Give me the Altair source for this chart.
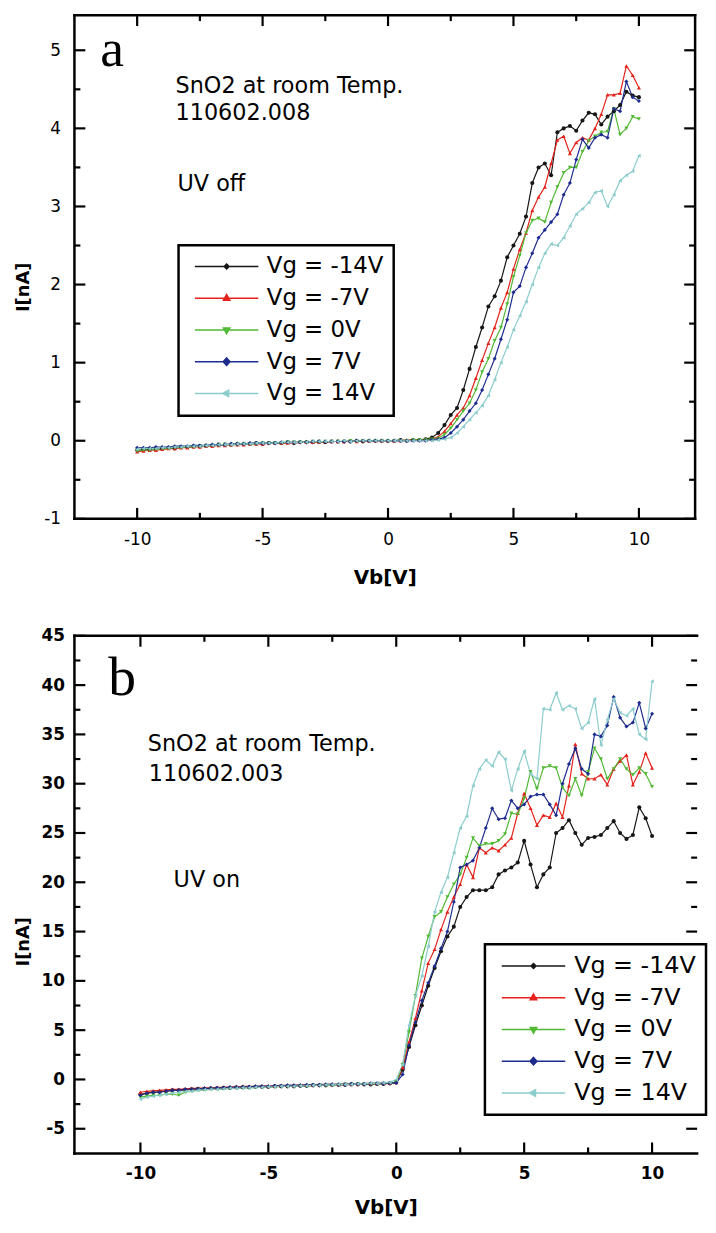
import altair as alt
import pandas as pd

SERIES = ["Vg = -14V", "Vg = -7V", "Vg = 0V", "Vg = 7V", "Vg = 14V"]
COLORS = ["#161616", "#e5221b", "#52b934", "#1f2c8f", "#8ccccd"]
SHAPES = ["circle", "triangle-up", "triangle-down", "diamond", "triangle-left"]
LEGEND_PATHS = [
    "M-1,0H11.8M5.4,-0.5L5.9,0L5.4,0.5L4.9,0Z",
    "M-1,0H11.8M5.4,-0.75L6.05,0.4L4.75,0.4Z",
    "M-1,0H11.8M5.4,0.75L6.05,-0.4L4.75,-0.4Z",
    "M-1,0H11.8M5.4,-0.75L6.1,0L5.4,0.75L4.7,0Z",
    "M-1,0H11.8M4.6,0L5.8,-0.65L5.8,0.65Z",
]

# bias voltage grid (V)
VB = [-10.0, -9.75, -9.5, -9.25, -9.0, -8.75, -8.5, -8.25, -8.0, -7.75,
      -7.5, -7.25, -7.0, -6.75, -6.5, -6.25, -6.0, -5.75, -5.5, -5.25,
      -5.0, -4.75, -4.5, -4.25, -4.0, -3.75, -3.5, -3.25, -3.0, -2.75,
      -2.5, -2.25, -2.0, -1.75, -1.5, -1.25, -1.0, -0.75, -0.5, -0.25,
      0.0, 0.25, 0.5, 0.75, 1.0, 1.25, 1.5, 1.75, 2.0, 2.25,
      2.5, 2.75, 3.0, 3.25, 3.5, 3.75, 4.0, 4.25, 4.5, 4.75,
      5.0, 5.25, 5.5, 5.75, 6.0, 6.25, 6.5, 6.75, 7.0, 7.25,
      7.5, 7.75, 8.0, 8.25, 8.5, 8.75, 9.0, 9.25, 9.5, 9.75,
      10.0]

# ---- panel a: UV off (I in nA) ----
A_M14 = [-0.12, -0.11, -0.11, -0.10, -0.10, -0.09, -0.10, -0.08, -0.08, -0.07,
         -0.07, -0.06, -0.06, -0.05, -0.05, -0.05, -0.04, -0.04, -0.04, -0.03,
         -0.04, -0.03, -0.03, -0.03, -0.02, -0.03, -0.02, -0.02, -0.02, -0.01,
         -0.02, -0.01, -0.01, -0.01, -0.01, 0.00, -0.01, 0.00, 0.00, 0.00,
         0.00, 0.00, 0.01, 0.00, 0.01, 0.01, 0.02, 0.04, 0.10, 0.20,
         0.33, 0.42, 0.65, 0.92, 1.20, 1.45, 1.72, 1.85, 2.05, 2.35,
         2.50, 2.65, 2.87, 3.30, 3.50, 3.55, 3.40, 3.95, 4.00, 4.03,
         3.97, 4.10, 4.20, 4.18, 4.05, 4.15, 4.22, 4.30, 4.47, 4.42,
         4.40]
A_M7 = [-0.14, -0.13, -0.12, -0.12, -0.11, -0.10, -0.10, -0.09, -0.09, -0.08,
        -0.08, -0.07, -0.07, -0.06, -0.06, -0.05, -0.05, -0.05, -0.04, -0.04,
        -0.04, -0.03, -0.03, -0.03, -0.03, -0.02, -0.02, -0.02, -0.02, -0.02,
        -0.01, -0.01, -0.01, -0.01, 0.00, -0.01, 0.00, 0.00, 0.00, 0.00,
        0.00, 0.00, 0.00, 0.01, 0.01, 0.01, 0.01, 0.02, 0.05, 0.12,
        0.22, 0.33, 0.42, 0.58, 0.80, 1.03, 1.25, 1.45, 1.70, 1.90,
        2.20, 2.45, 2.66, 2.95, 3.12, 3.25, 3.55, 3.85, 3.90, 3.68,
        3.82, 3.88, 3.85, 4.00, 4.18, 4.43, 4.43, 4.45, 4.80, 4.68,
        4.52]
A_0 = [-0.13, -0.12, -0.12, -0.11, -0.10, -0.10, -0.09, -0.09, -0.08, -0.08,
       -0.07, -0.07, -0.06, -0.06, -0.05, -0.05, -0.05, -0.04, -0.04, -0.04,
       -0.03, -0.03, -0.03, -0.03, -0.02, -0.02, -0.02, -0.02, -0.01, -0.02,
       -0.01, -0.01, -0.01, -0.01, 0.00, -0.01, 0.00, 0.00, 0.00, 0.00,
       0.00, 0.00, 0.00, 0.00, 0.01, 0.01, 0.01, 0.02, 0.03, 0.08,
       0.16, 0.27, 0.38, 0.48, 0.65, 0.88, 1.05, 1.28, 1.45, 1.75,
       2.10, 2.37, 2.66, 2.82, 2.85, 2.80, 3.05, 3.25, 3.43, 3.50,
       3.50, 3.70, 3.84, 3.90, 3.95, 3.96, 4.25, 3.92, 4.00, 4.15,
       4.12]
A_P7 = [-0.09, -0.09, -0.09, -0.08, -0.08, -0.08, -0.07, -0.07, -0.07, -0.06,
        -0.06, -0.06, -0.05, -0.05, -0.05, -0.04, -0.04, -0.04, -0.03, -0.03,
        -0.03, -0.03, -0.03, -0.02, -0.02, -0.02, -0.02, -0.02, -0.01, -0.01,
        -0.01, -0.01, -0.01, -0.01, -0.01, 0.00, 0.00, 0.00, 0.00, 0.00,
        0.00, 0.00, 0.00, 0.00, 0.00, 0.00, 0.00, 0.01, 0.02, 0.04,
        0.10, 0.18, 0.27, 0.38, 0.48, 0.65, 0.85, 1.05, 1.30, 1.55,
        1.90, 1.98, 2.22, 2.40, 2.60, 2.70, 2.80, 2.90, 3.15, 3.30,
        3.60, 3.86, 3.75, 3.88, 3.92, 3.88, 4.25, 4.22, 4.60, 4.40,
        4.35]
A_P14 = [-0.11, -0.10, -0.10, -0.10, -0.09, -0.09, -0.08, -0.08, -0.07, -0.07,
         -0.07, -0.06, -0.06, -0.05, -0.05, -0.05, -0.04, -0.04, -0.04, -0.03,
         -0.03, -0.03, -0.03, -0.02, -0.02, -0.02, -0.02, -0.02, -0.01, -0.01,
         -0.01, -0.01, -0.01, 0.00, -0.01, 0.00, 0.00, 0.00, 0.00, 0.00,
         0.00, 0.00, 0.00, 0.00, 0.00, 0.00, 0.00, 0.00, 0.01, 0.02,
         0.04, 0.10, 0.18, 0.27, 0.36, 0.45, 0.58, 0.78, 1.00, 1.20,
         1.42, 1.60, 1.78, 2.00, 2.22, 2.40, 2.52, 2.50, 2.60, 2.75,
         2.90, 2.97, 3.05, 3.18, 3.20, 3.00, 3.15, 3.33, 3.40, 3.45,
         3.65]

# ---- panel b: UV on (I in nA) ----
B_M14 = [-1.5, -1.4, -1.3, -1.25, -1.2, -1.1, -1.1, -1.05, -1.0, -0.95,
         -0.95, -0.9, -0.9, -0.85, -0.85, -0.8, -0.8, -0.8, -0.75, -0.75,
         -0.75, -0.7, -0.7, -0.7, -0.7, -0.65, -0.65, -0.6, -0.6, -0.6,
         -0.55, -0.55, -0.55, -0.5, -0.5, -0.5, -0.5, -0.45, -0.45, -0.4,
         -0.3, 1.0, 3.3, 5.5, 7.5, 9.5, 11.3, 13.0, 14.5, 15.5,
         17.5, 18.5, 19.2, 19.2, 19.2, 19.5, 20.8, 21.2, 21.5, 22.0,
         24.2, 21.8, 19.5, 20.8, 21.5, 25.0, 25.5, 26.3, 25.0, 23.8,
         24.5, 24.6, 24.8, 25.5, 26.2, 25.0, 24.4, 24.8, 27.6, 26.5,
         24.7]
B_M7 = [-1.3, -1.2, -1.15, -1.1, -1.05, -1.0, -1.0, -0.95, -0.9, -0.9,
        -0.85, -0.85, -0.8, -0.8, -0.75, -0.75, -0.7, -0.7, -0.7, -0.65,
        -0.65, -0.65, -0.6, -0.6, -0.6, -0.55, -0.55, -0.55, -0.5, -0.5,
        -0.5, -0.5, -0.45, -0.45, -0.45, -0.4, -0.4, -0.4, -0.35, -0.35,
        -0.3, 1.2, 3.8, 6.2, 9.0, 11.8, 13.2, 15.2, 17.0, 18.5,
        19.8, 21.8, 20.5, 23.5, 23.0, 23.5, 23.2, 23.8, 24.5, 27.0,
        29.0, 27.5, 25.8, 26.8, 26.6, 28.0, 26.6, 29.8, 34.0, 31.0,
        30.5, 30.5, 30.9, 29.9, 31.5, 32.3, 32.9, 29.9, 31.2, 33.1,
        31.6]
B_0 = [-1.8, -1.7, -1.6, -1.6, -1.5, -1.5, -1.6, -1.3, -1.2, -1.1,
       -1.05, -1.0, -1.0, -0.95, -0.9, -0.9, -0.85, -0.85, -0.8, -0.8,
       -0.75, -0.75, -0.7, -0.7, -0.7, -0.65, -0.65, -0.6, -0.6, -0.6,
       -0.55, -0.55, -0.5, -0.5, -0.5, -0.45, -0.45, -0.45, -0.4, -0.4,
       -0.3, 1.5, 4.8, 8.5, 12.3, 14.5, 16.5, 17.0, 18.5, 19.8,
       20.8, 22.5, 24.5, 23.7, 23.9, 23.9, 24.2, 24.9, 27.0, 26.9,
       28.5, 31.2, 29.5, 31.6, 31.8, 31.6, 29.6, 28.8, 30.5, 28.8,
       31.2, 33.6, 32.5, 30.5, 31.5, 32.5, 31.5, 30.9, 31.6, 31.0,
       29.7]
B_P7 = [-1.6, -1.4, -1.3, -1.3, -1.2, -1.1, -1.1, -1.0, -1.0, -0.95,
        -0.9, -0.9, -0.85, -0.85, -0.8, -0.8, -0.75, -0.75, -0.7, -0.7,
        -0.7, -0.65, -0.65, -0.6, -0.6, -0.6, -0.55, -0.55, -0.55, -0.5,
        -0.5, -0.5, -0.5, -0.45, -0.45, -0.45, -0.4, -0.4, -0.4, -0.35,
        -0.35, 0.5, 3.5, 5.8, 8.0, 9.8, 11.5, 13.3, 15.0, 18.0,
        21.5, 21.8, 22.2, 23.5, 25.5, 27.5, 26.4, 26.5, 28.3, 27.5,
        27.9, 28.7, 28.9, 28.9, 27.9, 26.8, 30.0, 32.0, 33.6, 31.5,
        31.0, 35.0, 34.8, 35.9, 38.8, 36.7, 35.8, 36.2, 38.2, 35.6,
        37.1]
B_P14 = [-2.0, -1.8, -1.7, -1.6, -1.5, -1.4, -1.3, -1.25, -1.2, -1.1,
         -1.05, -1.0, -1.0, -0.95, -0.9, -0.9, -0.85, -0.85, -0.8, -0.8,
         -0.75, -0.75, -0.7, -0.7, -0.7, -0.65, -0.65, -0.6, -0.6, -0.55,
         -0.55, -0.5, -0.5, -0.5, -0.45, -0.45, -0.4, -0.4, -0.35, -0.3,
         0.0, 1.5, 5.5, 8.5, 10.5, 13.5, 17.0, 19.0, 20.5, 23.0,
         25.5, 26.7, 29.8, 31.5, 32.4, 31.8, 33.2, 32.5, 29.3, 31.5,
         33.3, 31.0, 30.5, 37.6, 37.5, 39.2, 37.5, 37.9, 37.6, 35.6,
         36.2, 38.6, 33.9, 36.5, 38.6, 37.2, 36.9, 37.6, 35.0, 34.5,
         40.4]

# tick values
X_LABELS = [-10, -5, 0, 5, 10]
X_MINOR = [-7.5, -2.5, 2.5, 7.5]
A_Y_LABELS = [-1, 0, 1, 2, 3, 4, 5]
A_Y_MINOR = [-0.5, 0.5, 1.5, 2.5, 3.5, 4.5]
B_Y_LABELS = [-5, 0, 5, 10, 15, 20, 25, 30, 35, 40, 45]
B_Y_MINOR = [-2.5, 2.5, 7.5, 12.5, 17.5, 22.5, 27.5, 32.5, 37.5, 42.5]

A_TEXTS = ["a", "SnO2 at room Temp.", "110602.008", "UV off"]
B_TEXTS = ["b", "SnO2 at room Temp.", "110602.003", "UV on"]

SANS = "DejaVu Sans"
HYPHEN = "replace(datum.label, '\u2212', '-')"


def panel(series_vals, xdom, ydom, W, H, ylabels, yminor, label_w, label_size,
          x_lab_pad, y_lab_pad, x_title_y, y_title_y, leg, texts, text_pos,
          right_border):
    rows = []
    for s, vals in zip(SERIES, series_vals):
        assert len(vals) == len(VB)
        for v, i in zip(VB, vals):
            rows.append({"V": v, "I": i, "series": s})
    df = pd.DataFrame(rows)

    xs = alt.Scale(domain=xdom, nice=False, zero=False)
    ys = alt.Scale(domain=ydom, nice=False, zero=False)
    x_axis = alt.Axis(values=X_LABELS, title="Vb[V]", grid=False, ticks=False, tickSize=0,
                      domain=False, labelFont=SANS, labelFontSize=label_size,
                      labelFontWeight=label_w, labelColor="black", labelPadding=x_lab_pad,
                      labelOverlap=False, labelExpr=HYPHEN, titleFont=SANS, titleFontSize=20,
                      titleFontWeight="bold", titleColor="black", titleBaseline="middle",
                      titleY=x_title_y)
    y_axis = alt.Axis(values=ylabels, title="I[nA]", grid=False, ticks=False, tickSize=0,
                      domain=False, labelFont=SANS, labelFontSize=label_size,
                      labelFontWeight=label_w, labelColor="black", labelPadding=y_lab_pad,
                      labelOverlap=False, labelExpr=HYPHEN, titleFont=SANS, titleFontSize=18,
                      titleFontWeight="bold", titleColor="black", titleAngle=270,
                      titleBaseline="bottom", titleAlign="center", titleX=-42, titleY=y_title_y)

    X = alt.X("V:Q", scale=xs, axis=x_axis)
    Y = alt.Y("I:Q", scale=ys, axis=y_axis)

    layers = []
    for s, c in zip(SERIES, COLORS):
        layers.append(
            alt.Chart(df).transform_filter(alt.datum.series == s)
            .mark_line(strokeWidth=1.2, color=c, clip=True).encode(x=X, y=Y)
        )
    for s, c, sh in zip(SERIES, COLORS, SHAPES):
        layers.append(
            alt.Chart(df).transform_filter(alt.datum.series == s)
            .mark_point(filled=True, size=17, shape=sh, color=c, opacity=1, clip=True)
            .encode(x=X, y=Y)
        )

    dummy = pd.DataFrame({"k": [0]})
    frame = alt.Chart(dummy).mark_rule(color="black", strokeWidth=2.5, strokeCap="square")
    layers.append(frame.encode(x=alt.value(0), x2=alt.value(W), y=alt.value(0)))
    layers.append(frame.encode(x=alt.value(0), x2=alt.value(W), y=alt.value(H)))
    layers.append(frame.encode(x=alt.value(0), y=alt.value(0), y2=alt.value(H)))
    if right_border:
        layers.append(frame.encode(x=alt.value(W), y=alt.value(0), y2=alt.value(H)))

    def xticks(vals, length):
        base = alt.Chart(pd.DataFrame({"V": vals})).mark_rule(color="black", strokeWidth=2.2)
        return [base.encode(x=X, y=alt.value(H), y2=alt.value(H - length)),
                base.encode(x=X, y=alt.value(0), y2=alt.value(length))]

    def yticks(vals, length):
        base = alt.Chart(pd.DataFrame({"I": vals})).mark_rule(color="black", strokeWidth=2.2)
        return [base.encode(y=Y, x=alt.value(0), x2=alt.value(length)),
                base.encode(y=Y, x=alt.value(W), x2=alt.value(W - length))]

    layers += xticks(X_LABELS, 11) + xticks(X_MINOR, 6)
    layers += yticks(ylabels, 11) + yticks(yminor, 6)

    leg_df = pd.DataFrame({"series": SERIES, "V": [0.0] * 5, "I": [0.0] * 5})
    layers.append(
        alt.Chart(leg_df).mark_point(filled=True, opacity=0).encode(
            x=X, y=Y,
            fill=alt.Fill("series:N", scale=alt.Scale(domain=SERIES, range=COLORS), legend=leg),
            stroke=alt.Stroke("series:N", scale=alt.Scale(domain=SERIES, range=COLORS), legend=leg),
            shape=alt.Shape("series:N", scale=alt.Scale(domain=SERIES, range=LEGEND_PATHS), legend=leg),
        )
    )

    for t, (px, py, font, size) in zip(texts, text_pos):
        layers.append(
            alt.Chart(pd.DataFrame({"t": [t]})).mark_text(
                align="left", baseline="alphabetic", font=font, fontSize=size, color="black"
            ).encode(text="t:N", x=alt.value(px), y=alt.value(py))
        )
    return alt.layer(*layers).properties(width=W, height=H)


def legend(x, y, size, row_pad):
    return alt.Legend(title=None, orient="none", legendX=x, legendY=y, labelFont=SANS,
                      labelFontSize=size, labelColor="black", symbolSize=100,
                      symbolStrokeWidth=1.5, symbolOpacity=1, strokeColor="black",
                      fillColor="white", padding=10, rowPadding=row_pad, labelOffset=56)


pa = panel([A_M14, A_M7, A_0, A_P7, A_P14], [-12.5, 12.24], [-1, 5.45], 626, 508,
           A_Y_LABELS, A_Y_MINOR, "normal", 17, 13, 14, 59, 274,
           legend(105, 232, 23, 8), A_TEXTS,
           [(26, 51, "Liberation Serif", 54), (102, 79, SANS, 22.5), (102, 106, SANS, 22.5),
            (104, 177, SANS, 22.5)],
           True)
pb = panel([B_M14, B_M7, B_0, B_P7, B_P14], [-12.58, 11.76], [-7.5, 45], 628, 522,
           B_Y_LABELS, B_Y_MINOR, "bold", 17, 12, 10, 55, 308,
           legend(414, 311, 24, 8), B_TEXTS,
           [(34, 60, "Liberation Serif", 56), (74, 116, SANS, 22.5), (75, 146, SANS, 22.5),
            (100, 253, SANS, 22.5)],
           False)

chart = alt.vconcat(pa, pb, spacing=40).resolve_scale(
    x="independent", y="independent", fill="independent",
    stroke="independent", shape="independent"
).properties(
    padding={"left": 7, "top": 0, "right": 0, "bottom": 0}
).configure_view(stroke=None).configure_legend(strokeWidth=2.5)

chart.save("out.html", embed_options={"renderer": "svg", "actions": False})
